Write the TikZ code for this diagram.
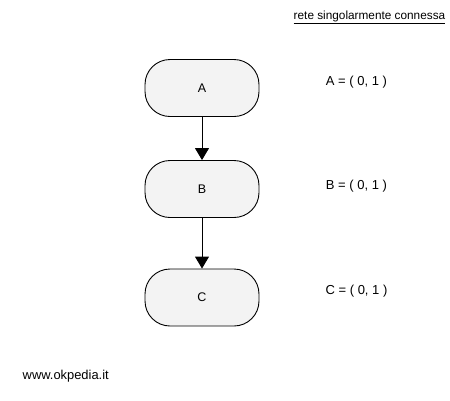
\documentclass[tikz,border=0pt]{standalone}
\usepackage{fontspec}
\setmainfont{Liberation Sans}
\usetikzlibrary{arrows.meta}
\definecolor{nodefill}{RGB}{243,243,243}
\begin{document}
\begin{tikzpicture}[x=1pt,y=-1pt,
  state/.style={draw=black,fill=nodefill,rounded corners=25pt,minimum width=114pt,minimum height=57pt,inner sep=0pt,font=\fontsize{12.5}{14}\selectfont,line width=0.9pt},
  lbl/.style={font=\fontsize{13}{15}\selectfont,inner sep=0pt},
  link/.style={draw=black,line width=0.9pt,-{Triangle[length=12pt,width=14pt]}}]
\useasboundingbox (0,0) rectangle (450,400);
\node[state] (A) at (202,88) {A};
\node[state] (B) at (202,189) {B};
\node[state] (C) at (202,297.5) {C};
\draw[link] (A) -- (B);
\draw[link] (B) -- (C);
\node[lbl] (la) at (356.5,82) {A = ( 0, 1 )};
\node[lbl] (lb) at (356.5,186.5) {B = ( 0, 1 )};
\node[lbl] (lc) at (356.5,291) {C = ( 0, 1 )};
\node[lbl,font=\fontsize{11.8}{13}\selectfont] (title) at (369.5,17.5) {\underline{rete singolarmente connessa}};
\node[lbl,font=\fontsize{12.9}{14}\selectfont,anchor=west] (web) at (22.5,376) {www.okpedia.it};
\end{tikzpicture}
\end{document}
